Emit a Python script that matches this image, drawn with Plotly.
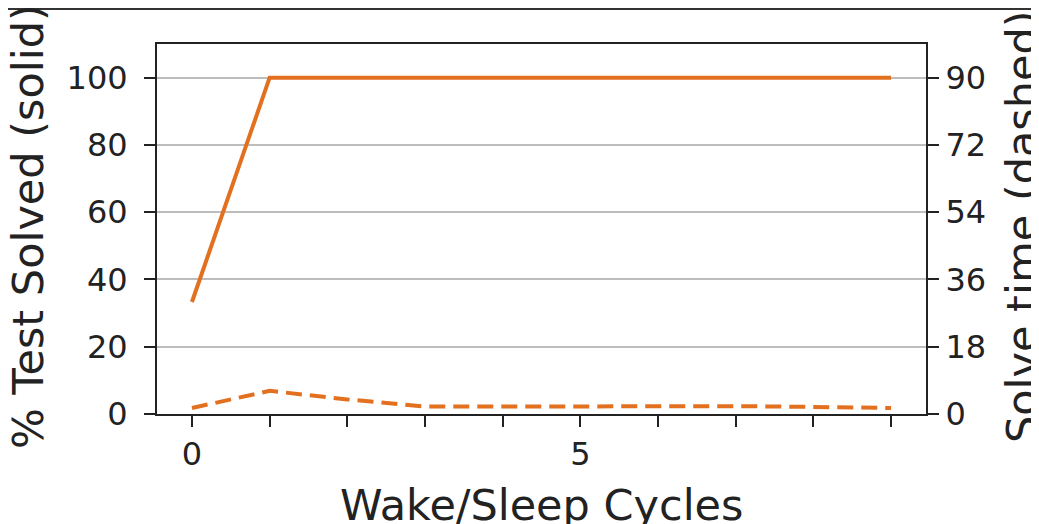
import plotly.graph_objects as go

cycles = [0, 1, 2, 3, 4, 5, 6, 7, 8, 9]
pct_solved = [33.3, 100, 100, 100, 100, 100, 100, 100, 100, 100]
solve_time = [1.6, 6.2, 3.9, 2.0, 2.0, 2.1, 2.2, 2.1, 1.9, 1.6]
x_tick_text = ["0", "", "", "", "", "5", "", "", "", ""]
left_ticks = [0, 20, 40, 60, 80, 100]
right_ticks = [0, 18, 36, 54, 72, 90]

color = "#e2701f"
font = "DejaVu Sans"

fig = go.Figure()
fig.add_trace(go.Scatter(x=cycles, y=pct_solved, mode="lines",
                         line=dict(color=color, width=4), yaxis="y"))
fig.add_trace(go.Scatter(x=cycles, y=solve_time, mode="lines",
                         line=dict(color=color, width=4, dash="16px,8px"), yaxis="y2"))

# page offset from default body margin
OFF = 8
W, H = 1039 - OFF, 524 - OFF
L, R, T, B = 157 - OFF, 926 - OFF, 44 - OFF, 414 - OFF
pw, ph = R - L, B - T

def px(x):
    return (x - OFF - L) / pw

def py(y):
    return (B - (y - OFF)) / ph

fig.update_layout(
    width=W, height=H,
    margin=dict(l=L, r=W - R, t=T, b=H - B, pad=0),
    paper_bgcolor="white", plot_bgcolor="white",
    showlegend=False,
    font=dict(family=font, color="#222222"),
    xaxis=dict(range=[-0.45, 9.45], tickvals=cycles, ticktext=x_tick_text,
               ticks="outside", ticklen=11, tickwidth=2, tickcolor="#222",
               showline=True, linecolor="#222", linewidth=2, mirror=True,
               showgrid=False, zeroline=False, tickfont=dict(size=32, family=font)),
    yaxis=dict(range=[0, 110], tickvals=left_ticks,
               ticks="outside", ticklen=11, tickwidth=2, tickcolor="#222",
               showline=True, linecolor="#222", linewidth=2,
               showgrid=True, gridcolor="#bdbdbd", gridwidth=1.5,
               zeroline=False, tickfont=dict(size=32, family=font),
               ticklabelstandoff=10),
    yaxis2=dict(range=[0, 99], tickvals=right_ticks, overlaying="y", side="right",
                ticks="outside", ticklen=11, tickwidth=2, tickcolor="#222",
                showline=True, linecolor="#222", linewidth=2,
                showgrid=False, zeroline=False, tickfont=dict(size=32, family=font)),
)

fig.add_annotation(text="% Test Solved (solid)", textangle=-90, showarrow=False,
                   xref="paper", yref="paper", x=px(28), y=py(227),
                   xanchor="center", yanchor="middle",
                   font=dict(size=43, family=font, color="#222"))
fig.add_annotation(text="Solve time (dashed)", textangle=-90, showarrow=False,
                   xref="paper", yref="paper", x=px(1022), y=py(227),
                   xanchor="center", yanchor="middle",
                   font=dict(size=43, family=font, color="#222"))
fig.add_annotation(text="Wake/Sleep Cycles", showarrow=False,
                   xref="paper", yref="paper", x=0.5, y=py(505),
                   xanchor="center", yanchor="middle",
                   font=dict(size=43, family=font, color="#222"))

fig.add_shape(type="line", xref="paper", yref="paper",
              x0=px(5), x1=px(1045), y0=py(9), y1=py(9),
              line=dict(color="#333", width=2))

fig.write_html("out.html")
